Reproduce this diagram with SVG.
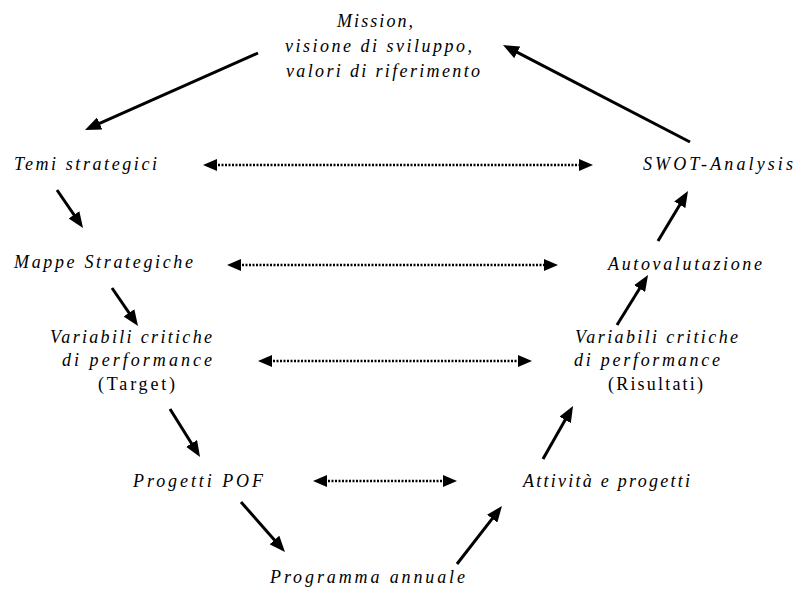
<svg xmlns="http://www.w3.org/2000/svg" width="795" height="589" viewBox="0 0 795 589">
<style>
text{font-family:"Liberation Serif","Times New Roman",serif;font-size:18px;fill:#000}
.i{font-style:italic}
.s{stroke:#000;stroke-width:3;fill:none}
.d{stroke:#000;stroke-width:2.5;stroke-dasharray:2 1.5;fill:none}
</style>
<defs>
<marker id="ah" markerUnits="userSpaceOnUse" markerWidth="17" markerHeight="13" refX="8" refY="6.5" orient="auto" viewBox="0 0 17 13"><path d="M0,0 L16,6.5 L0,13 z" fill="#000"/></marker>
<marker id="dh" markerUnits="userSpaceOnUse" markerWidth="15" markerHeight="12" refX="6" refY="6" orient="auto-start-reverse" viewBox="0 0 15 12"><path d="M0,0 L14,6 L0,12 z" fill="#000"/></marker>
</defs>
<g id="mission">
<text class="i" x="337" y="27" textLength="76" lengthAdjust="spacing">Mission,</text>
<text class="i" x="285" y="52" textLength="187" lengthAdjust="spacing">visione di sviluppo,</text>
<text class="i" x="286" y="77" textLength="194" lengthAdjust="spacing">valori di riferimento</text>
</g>
<g id="temi"><text class="i" x="14" y="170" textLength="143" lengthAdjust="spacing">Temi strategici</text></g>
<g id="swot"><text class="i" x="643" y="170" textLength="150" lengthAdjust="spacing">SWOT-Analysis</text></g>
<g id="mappe"><text class="i" x="14" y="268" textLength="179" lengthAdjust="spacing">Mappe Strategiche</text></g>
<g id="auto"><text class="i" x="608" y="270" textLength="154" lengthAdjust="spacing">Autovalutazione</text></g>
<g id="var-target">
<text class="i" x="50" y="343" textLength="162" lengthAdjust="spacing">Variabili critiche</text>
<text class="i" x="62" y="366" textLength="150" lengthAdjust="spacing">di performance</text>
<text x="98" y="390" textLength="77" lengthAdjust="spacing">(Target)</text>
</g>
<g id="var-risultati">
<text class="i" x="575" y="343" textLength="163" lengthAdjust="spacing">Variabili critiche</text>
<text class="i" x="574" y="366" textLength="146" lengthAdjust="spacing">di performance</text>
<text x="608" y="390" textLength="95" lengthAdjust="spacing">(Risultati)</text>
</g>
<g id="pof"><text class="i" x="133" y="487" textLength="130" lengthAdjust="spacing">Progetti POF</text></g>
<g id="attivita"><text class="i" x="523" y="487" textLength="167" lengthAdjust="spacing">Attività e progetti</text></g>
<g id="programma"><text class="i" x="270" y="583" textLength="195" lengthAdjust="spacing">Programma annuale</text></g>
<g id="connectors">
<line class="s" x1="258" y1="53" x2="92.3" y2="126.7" marker-end="url(#ah)"/>
<line class="s" x1="690" y1="142" x2="510.1" y2="48.7" marker-end="url(#ah)"/>
<line class="s" x1="57" y1="190" x2="78.5" y2="221.4" marker-end="url(#ah)"/>
<line class="s" x1="112" y1="288" x2="133.5" y2="319.4" marker-end="url(#ah)"/>
<line class="s" x1="170" y1="409" x2="195.8" y2="450.2" marker-end="url(#ah)"/>
<line class="s" x1="241" y1="502" x2="279.7" y2="546" marker-end="url(#ah)"/>
<line class="s" x1="457" y1="564" x2="497.1" y2="512.3" marker-end="url(#ah)"/>
<line class="s" x1="543" y1="459" x2="569.1" y2="413" marker-end="url(#ah)"/>
<line class="s" x1="617" y1="325" x2="643.8" y2="281.8" marker-end="url(#ah)"/>
<line class="s" x1="658" y1="241" x2="683.9" y2="197.9" marker-end="url(#ah)"/>
<line class="d" x1="211" y1="165" x2="585" y2="165" marker-start="url(#dh)" marker-end="url(#dh)"/>
<line class="d" x1="235" y1="265" x2="550" y2="265" marker-start="url(#dh)" marker-end="url(#dh)"/>
<line class="d" x1="266" y1="361" x2="524" y2="361" marker-start="url(#dh)" marker-end="url(#dh)"/>
<line class="d" x1="321" y1="481" x2="449" y2="481" marker-start="url(#dh)" marker-end="url(#dh)"/>
</g>
</svg>
